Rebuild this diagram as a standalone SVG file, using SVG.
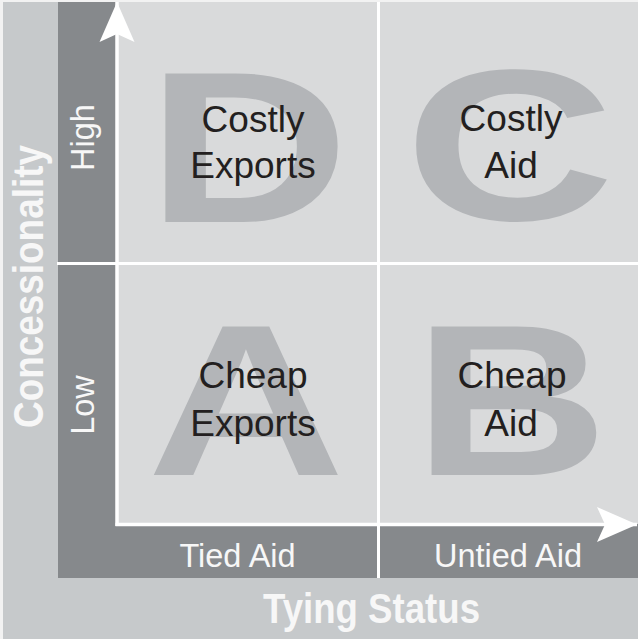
<svg xmlns="http://www.w3.org/2000/svg" width="638" height="639" viewBox="0 0 638 639">
  <style>
    .big { font-family: "Liberation Sans", Arial, sans-serif; font-weight: bold; font-size: 216px; fill: #b3b5b8; text-anchor: middle; }
    .lbl { font-family: "Liberation Sans", Arial, sans-serif; font-size: 37px; fill: #231f20; text-anchor: middle; }
    .axl { font-family: "Liberation Sans", Arial, sans-serif; font-size: 32.5px; fill: #f7f7f7; text-anchor: middle; }
    .ttl { font-family: "Liberation Sans", Arial, sans-serif; font-weight: bold; font-size: 42px; fill: #f7f7f7; text-anchor: middle; }
    .wl { stroke: #ffffff; stroke-width: 3.5; fill: none; }
  </style>
  <defs>
    <marker id="ah" markerUnits="userSpaceOnUse" markerWidth="50" markerHeight="40" viewBox="-45 -20 50 40" refX="0" refY="0" orient="auto">
      <path d="M0,0 L-40,-17.5 L-32,0 L-40,17.5 Z" fill="#ffffff"/>
    </marker>
  </defs>

  <g id="background">
    <rect x="0" y="0" width="638" height="639" fill="#f2f2f2"/>
    <rect x="3" y="2" width="635" height="637" fill="#c6c9cb"/>
    <rect x="58" y="2" width="59" height="576" fill="#86898c"/>
    <rect x="58" y="523" width="580" height="55" fill="#86898c"/>
    <rect x="117" y="2" width="521" height="522" fill="#d9dadb"/>
  </g>

  <g id="dividers">
    <line class="wl" x1="378.5" y1="2" x2="378.5" y2="578" style="stroke-width:3"/>
    <line class="wl" x1="57" y1="263.5" x2="638" y2="263.5" style="stroke-width:3"/>
  </g>

  <g id="quadrant-D">
    <text class="big" transform="translate(248,222) scale(1.3,1)">D</text>
    <text class="lbl" x="253" y="132">Costly</text>
    <text class="lbl" x="253" y="178">Exports</text>
  </g>
  <g id="quadrant-C">
    <text class="big" transform="translate(509.5,220) scale(1.35,1)">C</text>
    <text class="lbl" x="511" y="131">Costly</text>
    <text class="lbl" x="511" y="178">Aid</text>
  </g>
  <g id="quadrant-A">
    <text class="big" transform="translate(246,475) scale(1.27,1)">A</text>
    <text class="lbl" x="253" y="388">Cheap</text>
    <text class="lbl" x="253" y="436">Exports</text>
  </g>
  <g id="quadrant-B">
    <text class="big" transform="translate(511,475) scale(1.25,1)">B</text>
    <text class="lbl" x="512" y="388">Cheap</text>
    <text class="lbl" x="511" y="436">Aid</text>
  </g>

  <g id="connectors">
    <line class="wl" x1="117" y1="526" x2="117" y2="2" marker-end="url(#ah)"/>
    <line class="wl" x1="115.5" y1="524.5" x2="637" y2="524.5" marker-end="url(#ah)"/>
  </g>

  <g id="axis-labels">
    <text class="axl" x="237.5" y="567">Tied Aid</text>
    <text class="axl" x="508" y="567">Untied Aid</text>
    <text class="axl" transform="translate(94,137.5) rotate(-90)">High</text>
    <text class="axl" transform="translate(94,405) rotate(-90)">Low</text>
    <text class="ttl" x="371.5" y="623" textLength="217" lengthAdjust="spacingAndGlyphs">Tying Status</text>
    <text class="ttl" transform="translate(43,286.5) rotate(-90)" textLength="283" lengthAdjust="spacingAndGlyphs">Concessionality</text>
  </g>
</svg>
